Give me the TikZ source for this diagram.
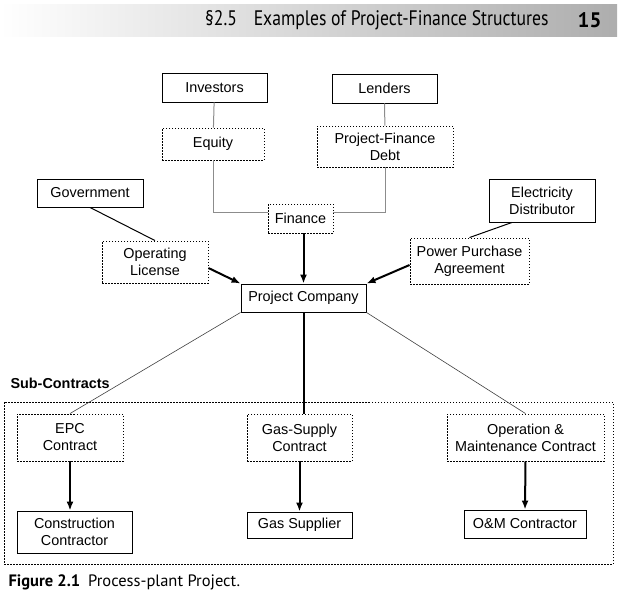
\documentclass[tikz,border=0pt]{standalone}
\usepackage{fontspec}
\setmainfont{Liberation Sans}
\newfontfamily\headfont{PT Sans}
\usetikzlibrary{arrows.meta, positioning}
\tikzset{
    solidBox/.style={
        draw=black,
        fill=white,
        line width=0.9pt,
        inner sep=0pt,
        align=center,
        font=\fontsize{14.4}{17}\selectfont
    },
    dotBox/.style={
        solidBox,
        dash pattern=on 1.5pt off 1.5pt
    },
    feedLine/.style={draw=black!45, line width=1pt},
    plainLine/.style={draw=black, line width=1pt},
    thinLine/.style={draw=black!75, line width=0.6pt},
    flowArrow/.style={draw=black, line width=2pt, ->}
}

\begin{document}
\begin{tikzpicture}[x=1pt, y=-1pt, >={Latex[length=9pt, width=7pt]}]
    \useasboundingbox (0,0) rectangle (619,605);

    % Page header
    \shade[left color=white, right color=black!32] (0,4) rectangle (617,36);
    \node[anchor=east, font=\headfont\fontsize{21}{24}\selectfont, text=black] (headTitle) at (552,20) {\scalebox{0.84}[1]{\S2.5\hspace{20pt}Examples of Project-Finance Structures}};
    \node[anchor=east, font=\headfont\bfseries\fontsize{21}{24}\selectfont, text=black] (headPage) at (605,20) {15};

    % Sub-contract frame
    \node[dotBox, fill=none, minimum width=609pt, minimum height=162pt] (subFrame) at (308.5,483) {};
    \node[anchor=base west, font=\bfseries\fontsize{14.4}{17}\selectfont] (subLabel) at (7,388) {Sub-Contracts};

    % Finance side
    \node[solidBox, minimum width=105pt, minimum height=29pt] (investors) at (214.5,87.5) {Investors};
    \node[solidBox, minimum width=105pt, minimum height=29pt] (lenders) at (384.5,88.5) {Lenders};
    \node[dotBox, minimum width=102pt, minimum height=32pt] (equity) at (213,144) {Equity};
    \node[dotBox, minimum width=136pt, minimum height=41pt] (pfDebt) at (385,146.5) {Project-Finance\\Debt};
    \node[dotBox, minimum width=65pt, minimum height=29pt] (finance) at (300.5,218.5) {Finance};

    % Government and offtaker
    \node[solidBox, minimum width=106pt, minimum height=28pt] (government) at (90,193) {Government};
    \node[dotBox, minimum width=106pt, minimum height=42pt] (opLicense) at (155,262) {Operating\\License};
    \node[solidBox, minimum width=106pt, minimum height=43pt] (elecDist) at (542,200.5) {Electricity\\Distributor};
    \node[dotBox, minimum width=119pt, minimum height=46pt] (ppa) at (469.5,261) {Power Purchase\\Agreement};

    % Project company
    \node[solidBox, minimum width=125pt, minimum height=28pt] (projCo) at (303.5,298) {Project Company};

    % Sub-contracts
    \node[dotBox, minimum width=106pt, minimum height=47pt] (epc) at (70,437.5) {EPC\\Contract};
    \node[dotBox, minimum width=105pt, minimum height=47pt] (gasContract) at (299.5,437.5) {Gas-Supply\\Contract};
    \node[dotBox, minimum width=157pt, minimum height=47pt] (omContract) at (525.5,437.5) {Operation \&\\Maintenance Contract};
    \node[solidBox, minimum width=115pt, minimum height=42pt] (constructor) at (74.5,532) {Construction\\Contractor};
    \node[solidBox, minimum width=105pt, minimum height=26pt] (gasSupplier) at (299.5,525) {Gas Supplier};
    \node[solidBox, minimum width=122pt, minimum height=28pt] (omContractor) at (525,524) {O\&M Contractor};

    % Finance links
    \draw[feedLine] (investors) -- (equity);
    \draw[feedLine] (lenders) -- (pfDebt);
    \draw[feedLine] (equity.south) |- ([yshift=6.5pt]finance.west);
    \draw[feedLine] (pfDebt.south) |- ([yshift=6.5pt]finance.east);
    \draw[flowArrow] (finance.south -| projCo.north) -- (projCo.north);

    % Licence and offtake
    \draw[plainLine] (government.south) -- (opLicense.north);
    \draw[flowArrow] ([yshift=-6pt]opLicense.east) -- (projCo.north west);
    \draw[plainLine] ([xshift=-30pt]elecDist.south) -- (ppa.north);
    \draw[flowArrow] ([yshift=-4pt]ppa.west) -- (projCo.north east);

    % Contracts
    \draw[thinLine] (projCo.south west) -- (epc.north);
    \draw[line width=2pt] (projCo.south) -- (projCo.south |- gasContract.north);
    \draw[thinLine] (projCo.south east) -- (omContract.north);
    \draw[flowArrow] (epc.south) -- (epc.south |- constructor.north);
    \draw[flowArrow] (gasContract.south) -- (gasSupplier.north);
    \draw[flowArrow] (omContract.south) -- (omContractor.north);

    % Caption
    \node[anchor=base west, font=\headfont\fontsize{16.5}{19}\selectfont] (caption) at (5,586) {\textbf{Figure 2.1}\hspace{8pt}Process-plant Project.};
\end{tikzpicture}
\end{document}
